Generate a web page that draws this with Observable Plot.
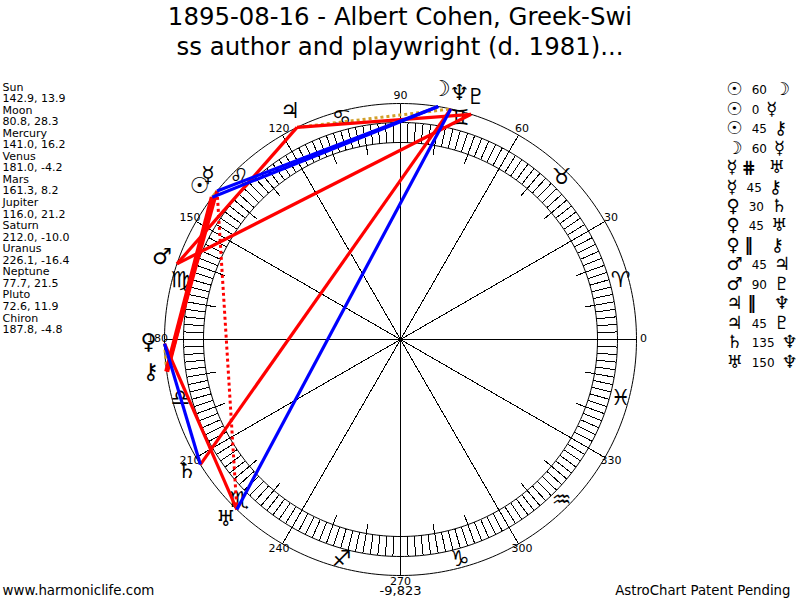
<!DOCTYPE html>
<html><head><meta charset="utf-8">
<script src="https://cdn.jsdelivr.net/npm/d3@7"></script>
<script src="https://cdn.jsdelivr.net/npm/@observablehq/plot@0.6"></script>
<style>
html,body{margin:0;padding:0;background:#fff;overflow:hidden}
#t{height:70px;text-align:center;font:24.4px/30px "DejaVu Sans",sans-serif;color:#000;padding-top:2px;box-sizing:border-box;white-space:nowrap}
svg{display:block}
</style></head><body>
<div id="t"></div>
<script>
const titleLines = ["1895-08-16 - Albert Cohen, Greek-Swi", "ss author and playwright (d. 1981)..."];
const planets = ["Sun","Moon","Mercury","Venus","Mars","Jupiter","Saturn","Uranus","Neptune","Pluto","Chiron"];
const glyphs  = ["\u2609","\u263D","\u263F","\u2640","\u2642","\u2643","\u2644","\u2645","\u2646","\u2647","\u26B7"];
const lons = [142.9,80.8,141.0,181.0,161.3,116.0,212.0,226.1,77.7,72.6,187.8];
const decls = [13.9,28.3,16.2,-4.2,8.2,21.2,-10.0,-16.4,21.5,11.9,-4.8];
const aspectFrom = ["Sun","Sun","Sun","Moon","Mercury","Mercury","Venus","Venus","Venus","Mars","Mars","Jupiter","Jupiter","Saturn","Uranus"];
const aspectType = ["60","0","45","60","#","45","30","45","||","45","90","||","45","135","150"];
const aspectTo   = ["Moon","Mercury","Chiron","Mercury","Uranus","Chiron","Saturn","Uranus","Chiron","Jupiter","Pluto","Neptune","Pluto","Neptune","Neptune"];
const signs = ["\u2648","\u2649","\u264A","\u264B","\u264C","\u264D","\u264E","\u264F","\u2650","\u2651","\u2652","\u2653"];
const degreeLabels = [0,30,60,90,120,150,180,210,240,270,300,330];
const footLeft = "www.harmoniclife.com", footMid = "-9,823", footRight = "AstroChart Patent Pending";

document.getElementById("t").innerHTML = titleLines.join("<br>");

const FONT = '"DejaVu Sans",sans-serif';
const RO = 236, RB1 = 217, RB0 = 197;
const pol = (deg, r) => ({x: r*Math.cos(deg*Math.PI/180), y: r*Math.sin(deg*Math.PI/180)});
const idx = n => planets.indexOf(n);
const circle = r => d3.range(0,361,1).map(a => pol(a,r));
const seg = (deg,r0,r1) => { const a=pol(deg,r0), b=pol(deg,r1); return {x1:a.x,y1:a.y,x2:b.x,y2:b.y}; };

const aspects = aspectType.map((t,i) => {
  const a=pol(lons[idx(aspectFrom[i])],RO), b=pol(lons[idx(aspectTo[i])],RO);
  return {x1:a.x,y1:a.y,x2:b.x,y2:b.y,t,lum:aspectFrom[i]==="Sun"&&aspectTo[i]==="Chiron"};
});
const soft = a => ["30","60","150"].includes(a.t);
const hard = a => ["45","90","135"].includes(a.t);
const par = a => a.t==="||";
const contra = a => a.t==="#";
const conj = a => a.t==="0";
const GOLD="#d2a02a";

const pageX = px => px-400, pageY = py => 339-py;
const infoLines = planets.flatMap((p,i)=>[p, `${lons[i].toFixed(1)}, ${decls[i].toFixed(1)}`]);
const symbol = t => t==="#"?"\u22D5":t==="||"?"\u2016":t;
const ctx = document.createElement("canvas").getContext("2d");
const w = (s,size,weight="normal") => { ctx.font = `${weight} ${size}px "DejaVu Sans"`; return ctx.measureText(s).width; };
const G=18, N=12;
const rows = aspectType.map((t,i)=>{
  const a=glyphs[idx(aspectFrom[i])], b=glyphs[idx(aspectTo[i])];
  const isSym=t==="#"||t==="||";
  const symW=isSym?26:w(t,N);
  const xn=726+w(a,G)+(isSym?3:9);
  return {a,b,t,i,xn,xb:xn+symW+(isSym?2:7),isSym};
});

const spokes = d3.range(0,360,30).map(d=>seg(d,0,RO));
const shorts = d3.range(0,360,10).filter(d=>d%30).map(d=>seg(d,187,RB0));
const ticks = d3.range(0,360,2).map(d=>seg(d,RB0,RB1));
const thin = {stroke:"#000",strokeWidth:1,shapeRendering:"crispEdges"};
const thinC = {x:"x",y:"y",stroke:"#000",strokeWidth:1};
const shown = lons.map(l => lons.some(o => o>l && o-l<3.2) ? l-1.2 : l);

const plot = Plot.plot({
  width:800,height:530,margin:0,
  x:{domain:[-400,400],range:[0,800],axis:null},
  y:{domain:[269,-261],range:[0,530],axis:null},
  marks:[
    Plot.link(spokes,{x1:"x1",y1:"y1",x2:"x2",y2:"y2",...thin}),
    Plot.link(shorts,{x1:"x1",y1:"y1",x2:"x2",y2:"y2",...thin}),
    Plot.link(ticks,{x1:"x1",y1:"y1",x2:"x2",y2:"y2",...thin}),
    Plot.line(circle(RO),thinC),
    Plot.line(circle(RB1),thinC),
    Plot.line(circle(RB0),thinC),
    Plot.text(degreeLabels,{x:d=>pol(d,243).x,y:d=>pol(d,243).y,dy:-1,text:d=>String(d),fontSize:11,fontFamily:FONT,fill:"#000"}),
    Plot.text(signs,{x:(d,i)=>pol(15+30*i,228).x,y:(d,i)=>pol(15+30*i,228).y,dy:-1,text:d=>d,fontSize:22,fontFamily:FONT,fill:"#000"}),
    Plot.link(aspects.filter(conj),{x1:"x1",y1:"y1",x2:"x2",y2:"y2",stroke:GOLD,strokeWidth:3}),
    Plot.link(aspects.filter(par),{x1:"x1",y1:"y1",x2:"x2",y2:"y2",stroke:GOLD,strokeWidth:3,strokeDasharray:"3,3"}),
    Plot.link(aspects.filter(contra),{x1:"x1",y1:"y1",x2:"x2",y2:"y2",stroke:"#ff0000",strokeWidth:3,strokeDasharray:"3,3"}),
    Plot.link(aspects.filter(hard),{x1:"x1",y1:"y1",x2:"x2",y2:"y2",stroke:"#ff0000",strokeWidth:d=>d.lum?5:3.2}),
    Plot.link(aspects.filter(soft),{x1:"x1",y1:"y1",x2:"x2",y2:"y2",stroke:"#0000ff",strokeWidth:3.2}),
    Plot.text(glyphs,{x:(d,i)=>pol(shown[i],252).x,y:(d,i)=>pol(shown[i],252).y,dy:-2,text:d=>d,fontSize:22,fontFamily:FONT,fill:"#000"}),
    Plot.text(infoLines,{x:()=>pageX(2),y:(d,i)=>pageY(86.5+i*11.55),text:d=>d,textAnchor:"start",fontSize:11,fontFamily:FONT,fill:"#000"}),
    Plot.text(rows,{x:()=>pageX(726),y:d=>pageY(89+d.i*19.45),text:"a",textAnchor:"start",fontSize:G,fontFamily:FONT,fill:"#000"}),
    Plot.text(rows.filter(d=>!d.isSym),{x:d=>pageX(d.xn),y:d=>pageY(90+d.i*19.45),text:"t",textAnchor:"start",fontSize:N,fontFamily:FONT,fill:"#000"}),
    Plot.text(rows.filter(d=>d.isSym),{x:d=>pageX(d.xn+(d.t==="#"?8:6)),y:d=>pageY(89+d.i*19.45),text:d=>symbol(d.t),textAnchor:"middle",fontSize:17,fontWeight:"bold",fontFamily:FONT,fill:"#000"}),
    Plot.text(rows,{x:d=>pageX(d.xb),y:d=>pageY(89+d.i*19.45),text:"b",textAnchor:"start",fontSize:G,fontFamily:FONT,fill:"#000"}),
    Plot.text([footLeft],{x:()=>pageX(2),y:()=>pageY(590),text:d=>d,textAnchor:"start",fontSize:13.4,fontFamily:FONT,fill:"#000"}),
    Plot.text([footMid],{x:()=>pageX(400),y:()=>pageY(590),text:d=>d,fontSize:13,fontFamily:FONT,fill:"#000"}),
    Plot.text([footRight],{x:()=>pageX(790),y:()=>pageY(590),text:d=>d,textAnchor:"end",fontSize:13.3,fontFamily:FONT,fill:"#000"})
  ]
});
document.body.appendChild(plot);
</script>
</body></html>
